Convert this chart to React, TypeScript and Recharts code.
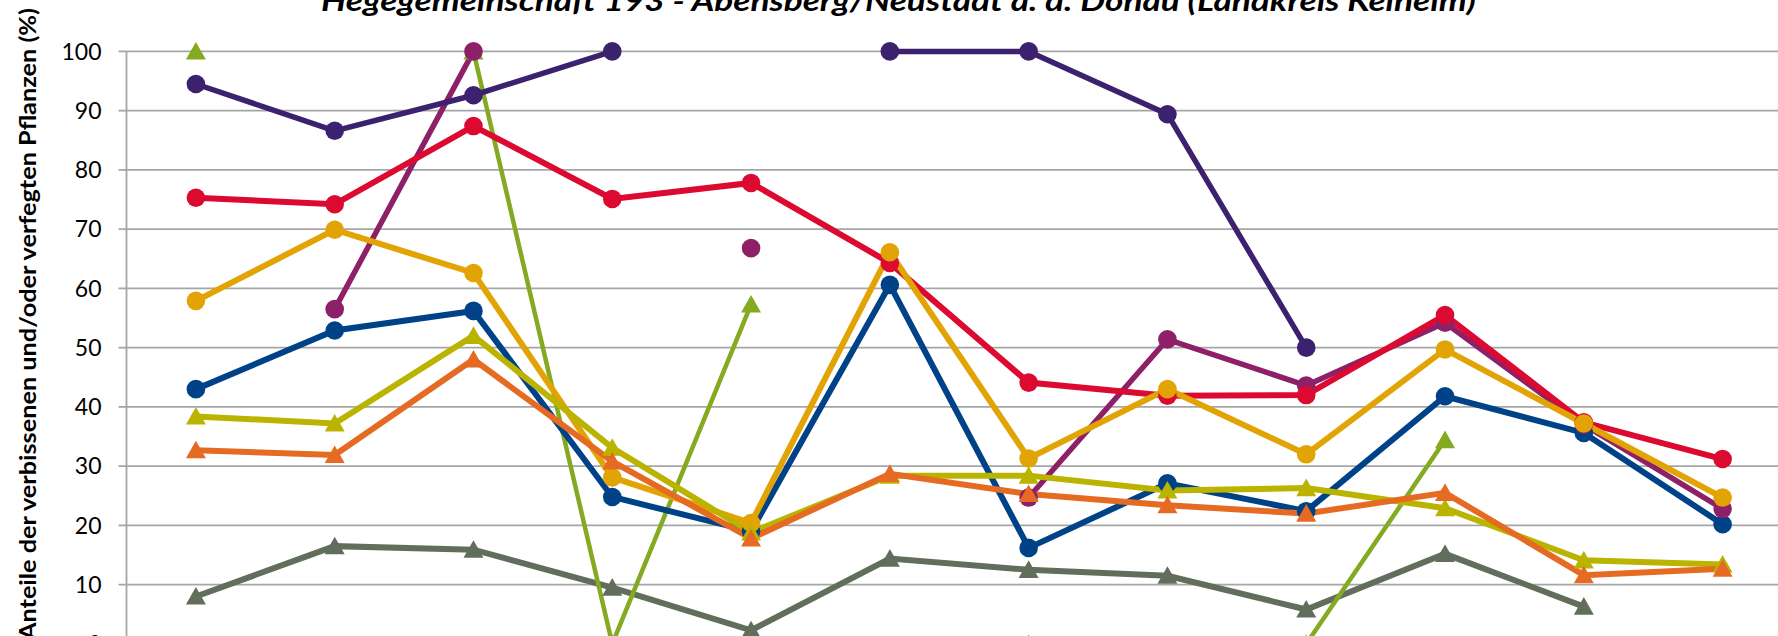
import { LineChart, Line, XAxis, YAxis, CartesianGrid } from 'recharts';

// Aufnahmejahre (x-Achse, im Bild abgeschnitten)
const jahre = ['1991', '1994', '1997', '2000', '2003', '2006', '2009', '2012', '2015', '2018', '2021', '2024'];

// Werte in Prozent, null = keine Aufnahme
const fichte = [8.0, 16.5, 15.9, 9.5, 2.3, 14.4, 12.5, 11.5, 5.8, 15.2, 6.3, null];
const tanne = [100, null, 100, 0, 57.3, null, 0, null, 0, 34.4, null, null];
const buche = [43.0, 52.9, 56.2, 24.8, 19.0, 60.6, 16.2, 27.1, 22.4, 41.8, 35.6, 20.2];
const edellaubholz = [null, 56.5, 100, null, 66.8, null, 24.7, 51.4, 43.6, 54.2, 37.0, 22.8];
const eiche = [75.3, 74.2, 87.4, 75.1, 77.8, 64.3, 44.1, 41.9, 42.0, 55.5, 37.4, 31.2];
const laubholz = [57.9, 69.9, 62.6, 28.1, 20.4, 66.1, 31.3, 43.0, 32.0, 49.7, 37.2, 24.7];
const sonstLaubholz = [94.5, 86.6, 92.6, 100, null, 100, 100, 89.4, 50.0, null, null, null];
const kiefer = [38.4, 37.2, 52.0, 33.1, 18.8, 28.4, 28.4, 25.9, 26.3, 22.9, 14.1, 13.4];
const nadelholz = [32.7, 31.9, 48.0, 30.8, 17.8, 28.7, 25.3, 23.4, 22.0, 25.5, 11.6, 12.7];

const yTicks = [0, 10, 20, 30, 40, 50, 60, 70, 80, 90, 100];

const serien = [
  { key: 'fichte', name: 'Fichte', werte: fichte, farbe: '#626e5c', form: 'dreieck', breite: 6 },
  { key: 'tanne', name: 'Tanne', werte: tanne, farbe: '#83aa20', form: 'dreieck', breite: 4.5 },
  { key: 'buche', name: 'Buche', werte: buche, farbe: '#004287', form: 'kreis', breite: 6 },
  { key: 'edellaubholz', name: 'Edellaubholz', werte: edellaubholz, farbe: '#8d2066', form: 'kreis', breite: 5.5 },
  { key: 'eiche', name: 'Eiche', werte: eiche, farbe: '#dc0a30', form: 'kreis', breite: 6 },
  { key: 'laubholz', name: 'Laubholz', werte: laubholz, farbe: '#e2a405', form: 'kreis', breite: 6 },
  { key: 'sonstLaubholz', name: 'Sonstiges Laubholz', werte: sonstLaubholz, farbe: '#3c226e', form: 'kreis', breite: 5.5 },
  { key: 'kiefer', name: 'Kiefer', werte: kiefer, farbe: '#bab300', form: 'dreieck', breite: 6 },
  { key: 'nadelholz', name: 'Nadelholz', werte: nadelholz, farbe: '#e46b21', form: 'dreieck', breite: 6 },
];

const data = jahre.map((jahr, i) => {
  const row: any = { jahr };
  serien.forEach(s => { row[s.key] = s.werte[i]; });
  return row;
});

const W = 1800;
const H = 720;
const PLOT_LEFT = 126.5;
const PLOT_RIGHT = 1792;
const PLOT_TOP = 51.4;
const PLOT_BOTTOM = 643.9;
const BAND = (PLOT_RIGHT - PLOT_LEFT) / jahre.length;

function makeDot(farbe: string, form: string) {
  return (p: any) => {
    const k = `${farbe}-${p.index}`;
    if (p.value == null || p.cx == null || p.cy == null) return <g key={k} />;
    if (form === 'kreis') return <circle key={k} cx={p.cx} cy={p.cy} r={9.3} fill={farbe} />;
    const w = 10, h = 9.5;
    return (
      <polygon
        key={k}
        points={`${p.cx},${p.cy - h} ${p.cx + w},${p.cy + h * 0.85} ${p.cx - w},${p.cy + h * 0.85}`}
        fill={farbe}
      />
    );
  };
}

export default function App() {
  return (
    <div style={{ position: 'absolute', left: 0, top: 0, width: W, height: H, background: '#fff' }}>
      <LineChart
        width={W}
        height={H}
        data={data}
        margin={{ top: PLOT_TOP, right: W - PLOT_RIGHT, left: 0, bottom: H - PLOT_BOTTOM }}
      >
        <CartesianGrid vertical={false} stroke="#a6a6a6" strokeWidth={1.8} />
        <XAxis dataKey="jahr" hide scale="point" padding={{ left: BAND / 2, right: BAND / 2 }} />
        <YAxis
          width={PLOT_LEFT}
          domain={[0, 100]}
          ticks={yTicks}
          interval={0}
          axisLine={{ stroke: '#a6a6a6', strokeWidth: 1.8 }}
          tickLine={{ stroke: '#a6a6a6', strokeWidth: 1.8 }}
          tickSize={8}
          tickMargin={17}
          tick={{ fill: '#000', fontSize: 23, fontFamily: 'Lato' }}
        />
        {serien.map(s => (
          <Line
            key={s.key}
            dataKey={s.key}
            name={s.name}
            stroke={s.farbe}
            strokeWidth={s.breite}
            type="linear"
            dot={makeDot(s.farbe, s.form)}
            activeDot={false}
            isAnimationActive={false}
          />
        ))}
      </LineChart>
      <svg width={W} height={H} style={{ position: 'absolute', left: 0, top: 0, pointerEvents: 'none' }}>
        <text
          x={898.5}
          y={10.5}
          textAnchor="middle"
          fontFamily="Lato"
          fontWeight="bold"
          fontStyle="italic"
          fontSize={28}
          textLength={1155}
          lengthAdjust="spacingAndGlyphs"
          fill="#000"
        >
          Hegegemeinschaft 193 - Abensberg/Neustadt a. d. Donau (Landkreis Kelheim)
        </text>
        <text
          transform="translate(36,324) rotate(-90)"
          textAnchor="middle"
          fontFamily="Lato"
          fontWeight="bold"
          fontSize={22}
          textLength={632}
          lengthAdjust="spacingAndGlyphs"
          fill="#000"
        >
          Anteile der verbissenen und/oder verfegten Pflanzen (%)
        </text>
      </svg>
    </div>
  );
}
